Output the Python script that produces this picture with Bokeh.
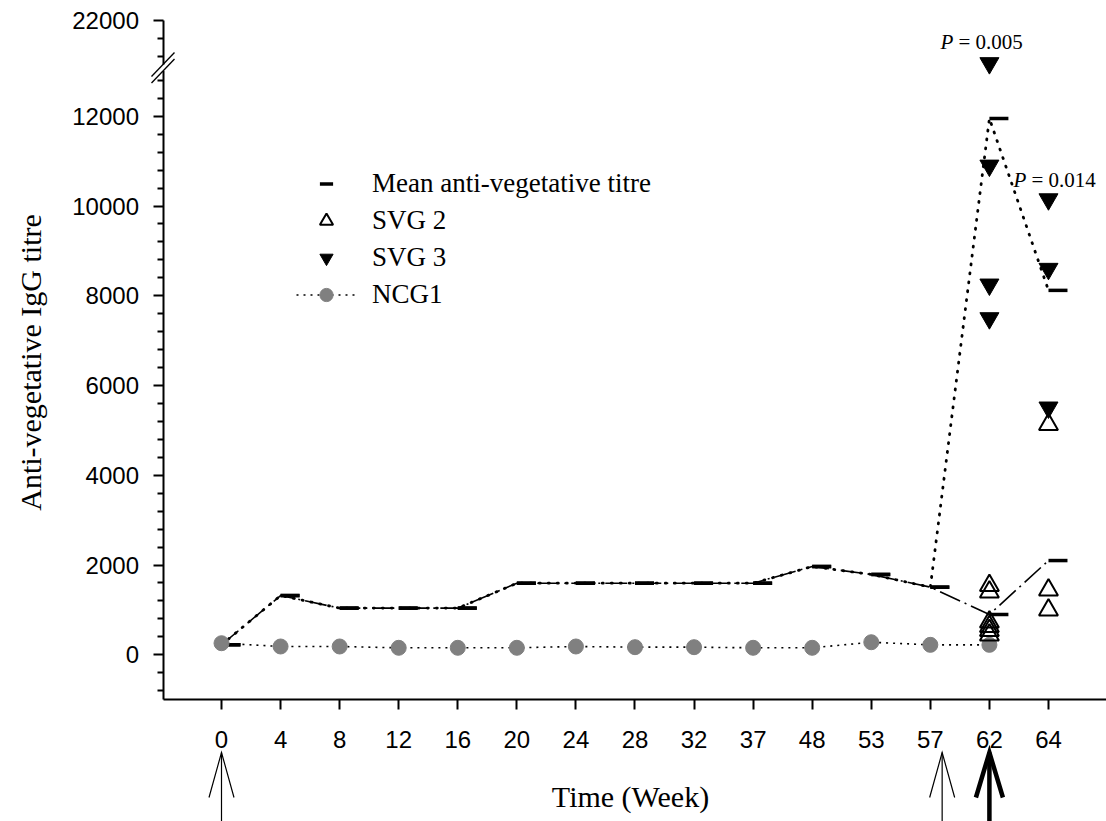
import math
from bokeh.plotting import figure
from bokeh.models import (Range1d, FixedTicker, Legend, LegendItem, ColumnDataSource)
from bokeh.transform import dodge
from bokeh.core.properties import value
from bokeh.embed import file_html
from bokeh.resources import INLINE

# ---------------- data ----------------
weeks = [0, 4, 8, 12, 16, 20, 24, 28, 32, 37, 48, 53, 57, 62, 64]
mean_svg2 = [222, 1320, 1040, 1040, 1040, 1595, 1595, 1595, 1595, 1595, 1967, 1790, 1507, 898, 2100]
mean_svg3 = [222, 1320, 1040, 1040, 1040, 1595, 1595, 1595, 1595, 1595, 1967, 1790, 1507, 11950, 8120]
ncg1_weeks = [0, 4, 8, 12, 16, 20, 24, 28, 32, 37, 48, 53, 57, 62]
ncg1_vals = [258, 185, 185, 156, 156, 156, 185, 170, 170, 156, 156, 280, 222, 222]
svg2_weeks = [62, 62, 62, 62, 62, 62, 64, 64, 64]
svg2_vals = [1545, 1400, 730, 630, 540, 440, 5130, 1443, 998]
svg3_weeks = [62, 62, 62, 62, 64, 64, 64]
svg3_vals = [21050, 10900, 8250, 7500, 10150, 8600, 5510]
p_weeks = [62, 64]
p_texts = ["= 0.005", "= 0.014"]
p_anchor_vals = [21050, 10150]          # point each P value sits above
booster_weeks = [0, 58, 62]              # immunisation arrows below the axis
booster_heavy = [False, False, True]

y_major = [0, 2000, 4000, 6000, 8000, 10000, 12000, 22000]
y_minor = [-800, -400, 400, 800, 1200, 1600, 2400, 2800, 3200, 3600, 4400, 4800,
           5200, 5600, 6400, 6800, 7200, 7600, 8400, 8800, 9200, 9600, 10400,
           10800, 11200, 11600, 12400, 12800, 21200, 21600]

# broken y axis: values above the break are shifted down
BREAK = 13100
SHIFT = 7867


def disp(v):
    return v if v <= BREAK else v - SHIFT


def idx(w):
    # equally spaced week positions; a week between two ticks is interpolated
    if w in weeks:
        return float(weeks.index(w))
    i = max(k for k, ww in enumerate(weeks) if ww < w)
    return i + (w - weeks[i]) / (weeks[i + 1] - weeks[i])


# ---------------- layout (pixel geometry of the page) ----------------
W, H = 1106, 821
X0_PX, PX_PER_X = 221.0, 59.07       # pixel of index 0, pixels per index
Y0_PX, PX_PER_Y = 654.3, 0.04488     # pixel of value 0, pixels per unit
AXIS_LEFT_PX, AXIS_BOTTOM_PX = 162.5, 699.0


def xd(px):
    return (px - X0_PX) / PX_PER_X


def yd(py):
    return (Y0_PX - py) / PX_PER_Y


p = figure(width=W, height=H, output_backend="svg", toolbar_location=None,
           x_range=Range1d(xd(0), xd(W)), y_range=Range1d(yd(H), yd(0)),
           min_border_left=0, min_border_top=0, min_border_bottom=0,
           min_border_right=0)
p.xgrid.visible = False
p.ygrid.visible = False
p.outline_line_color = None
p.background_fill_color = "white"
p.border_fill_color = "white"

# ---------------- axes ----------------
x_axis_loc = yd(AXIS_BOTTOM_PX)
y_axis_loc = xd(AXIS_LEFT_PX)
xi = [idx(w) for w in weeks]
p.xaxis.ticker = FixedTicker(ticks=xi, minor_ticks=[])
p.xaxis.major_label_overrides = {i: str(w) for i, w in enumerate(weeks)}
p.yaxis.ticker = FixedTicker(ticks=[disp(v) for v in y_major],
                             minor_ticks=[disp(v) for v in y_minor])
p.yaxis.major_label_overrides = {disp(v): str(v) for v in y_major}
p.xaxis.fixed_location = x_axis_loc
p.yaxis.fixed_location = y_axis_loc
p.xaxis.bounds = (y_axis_loc, xd(W))
p.yaxis.bounds = (x_axis_loc, disp(22000))

for ax in (p.xaxis[0], p.yaxis[0]):
    ax.axis_line_width = 2
    ax.major_tick_line_width = 2
    ax.minor_tick_line_width = 2
    ax.major_tick_out = 10
    ax.major_tick_in = 0
    ax.minor_tick_out = 6
    ax.minor_tick_in = 0
    ax.major_label_text_font = "Liberation Sans"
    ax.major_label_text_font_size = "24px"
    ax.major_label_text_color = "black"
p.xaxis.major_label_standoff = 21
p.yaxis.major_label_standoff = 14

# axis titles
p.text(x=[xd(630)], y=[yd(796)], text=["Time (Week)"],
       text_font=value("Liberation Serif"), text_font_size="30px",
       text_align="center", text_baseline="middle", text_color="black")
p.text(x=[xd(30)], y=[yd(362)], text=["Anti-vegetative IgG titre"], angle=math.pi / 2,
       text_font=value("Liberation Serif"), text_font_size="30px",
       text_align="center", text_baseline="middle", text_color="black")

# ---------------- series ----------------
src_mean = ColumnDataSource(dict(x=xi, m2=[disp(v) for v in mean_svg2],
                                 m3=[disp(v) for v in mean_svg3]))
p.line("x", "m2", source=src_mean, line_color="black", line_width=1.6,
       line_dash="22 5 2 5")
p.line("x", "m3", source=src_mean, line_color="black", line_width=2.8,
       line_dash="1 8", line_cap="round")
dash_off = 9.5 / PX_PER_X
mean_r = p.scatter(dodge("x", dash_off), "m2", source=src_mean, marker="dash",
                   size=19, line_width=3.5, line_color="black")
p.scatter(dodge("x", dash_off), "m3", source=src_mean, marker="dash",
          size=19, line_width=3.5, line_color="black")

src_ncg = ColumnDataSource(dict(x=[idx(w) for w in ncg1_weeks], y=ncg1_vals))
ncg_line = p.line("x", "y", source=src_ncg, line_color="black", line_width=1.6,
                  line_dash="2 5")
ncg_pts = p.scatter("x", "y", source=src_ncg, marker="circle", size=15,
                    fill_color="#808080", line_color="#808080")

src_s2 = ColumnDataSource(dict(x=[idx(w) for w in svg2_weeks],
                               y=[disp(v) for v in svg2_vals]))
svg2_r = p.scatter("x", "y", source=src_s2, marker="triangle", size=19,
                   fill_color="white", fill_alpha=0, line_color="black", line_width=2)

src_s3 = ColumnDataSource(dict(x=[idx(w) for w in svg3_weeks],
                               y=[disp(v) for v in svg3_vals]))
svg3_r = p.scatter("x", "y", source=src_s3, marker="inverted_triangle", size=19,
                   fill_color="black", line_color="black", line_width=1)

# ---------------- P-value annotations ----------------
src_p = ColumnDataSource(dict(x=[idx(w) for w in p_weeks],
                              y=[disp(v) for v in p_anchor_vals],
                              t=p_texts, pp=["P"] * len(p_texts),
                              xo1=[-49, -35], xo2=[-31, -17], yo=[-21, -19]))
p.text("x", "y", text="pp", source=src_p, x_offset="xo1", y_offset="yo",
       text_font=value("Liberation Serif"), text_font_style="italic",
       text_font_size="21px", text_align="left", text_baseline="middle",
       text_color="black")
p.text("x", "y", text="t", source=src_p, x_offset="xo2", y_offset="yo",
       text_font=value("Liberation Serif"), text_font_size="21px",
       text_align="left", text_baseline="middle", text_color="black")

# ---------------- legend ----------------
legend = Legend(items=[
    LegendItem(label="Mean anti-vegetative titre", renderers=[mean_r]),
    LegendItem(label="SVG 2", renderers=[svg2_r]),
    LegendItem(label="SVG 3", renderers=[svg3_r]),
    LegendItem(label="NCG1", renderers=[ncg_line, ncg_pts]),
], location=(296, 510), glyph_width=60, glyph_height=33, label_height=33,
    spacing=4, padding=10, label_standoff=16, margin=0,
    border_line_color=None, background_fill_alpha=0,
    label_text_font="Liberation Serif", label_text_font_size="27px",
    label_text_color="black")
p.add_layout(legend)

# ---------------- axis break marks ----------------
bx = 11.5 / PX_PER_X
by = 12.0 / PX_PER_Y
yu, yl = yd(64), yd(70.5)
p.quad(left=[y_axis_loc - 3 / PX_PER_X], right=[y_axis_loc + 3 / PX_PER_X],
       bottom=[yl], top=[yu], fill_color="white", line_color=None,
       level="overlay")
p.segment(x0=[y_axis_loc - bx] * 2, y0=[yu - by, yl - by],
          x1=[y_axis_loc + bx] * 2, y1=[yu + by, yl + by],
          line_width=1.3, line_color="black", level="overlay")

# ---------------- immunisation arrows ----------------
tip = yd(752)
tail = yd(H + 20)
head_len = 45 / PX_PER_Y
ax_x = [idx(w) for w in booster_weeks]
lw = [4.5 if h else 1.2 for h in booster_heavy]
hw = [(13.5 if h else 12.5) / PX_PER_X for h in booster_heavy]
p.segment(x0=ax_x, y0=[tail] * len(ax_x), x1=ax_x, y1=[tip] * len(ax_x),
          line_width=lw, line_color="black")
p.multi_line(xs=[[x - h, x, x + h] for x, h in zip(ax_x, hw)],
             ys=[[tip - head_len, tip, tip - head_len] for _ in ax_x],
             line_width=lw, line_color="black", line_join="miter")

open("out.html", "w").write(file_html(p, INLINE))
